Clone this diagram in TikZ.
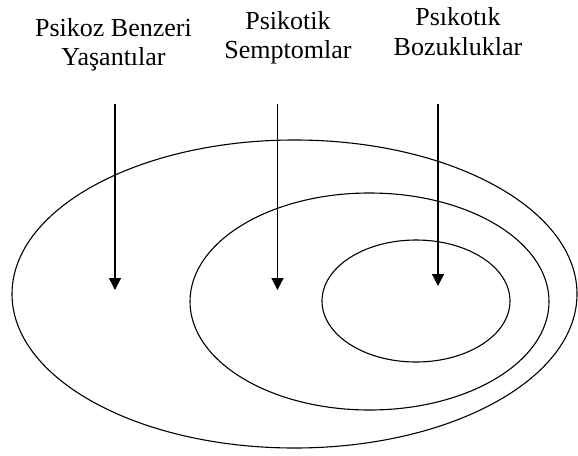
\documentclass[tikz,border=0pt]{standalone}
\usepackage{fontspec}
\setmainfont{Liberation Serif}
\usetikzlibrary{arrows.meta}
\begin{document}
\begin{tikzpicture}[x=1pt, y=-1pt, >={Triangle[length=12pt,width=12pt]},
  lbl/.style={anchor=north, inner sep=0pt, align=center, font=\fontsize{26}{29.5}\selectfont},
  ring/.style={line width=1.1pt},
  pointer/.style={->, line width=1.3pt}]
 \useasboundingbox (0,0) rectangle (578,455);
 % kümeler
 \draw[ring] (294.5,294) ellipse [x radius=282.5, y radius=154];
 \draw[ring] (369.5,301.5) ellipse [x radius=179.5, y radius=108.5];
 \draw[ring] (416,301) ellipse [x radius=94, y radius=61];
 % etiketler
 \node[lbl] (benzeri) at (113.5,18) {Psikoz Benzeri\\Yaşantılar};
 \node[lbl] (semptom) at (288,11) {Psikotik\\Semptomlar};
 \node[lbl] (bozukluk) at (458,7.5) {Psıkotık\\Bozukluklar};
 % oklar
 \coordinate (benzeri-top) at (115,104);
 \coordinate (benzeri-tip) at (115,290);
 \coordinate (semptom-top) at (277.5,104);
 \coordinate (semptom-tip) at (277.5,290);
 \coordinate (bozukluk-top) at (438,104);
 \coordinate (bozukluk-tip) at (438,286);
 \draw[pointer] (benzeri-top) -- (benzeri-tip);
 \draw[pointer] (semptom-top) -- (semptom-tip);
 \draw[pointer] (bozukluk-top) -- (bozukluk-tip);
\end{tikzpicture}
\end{document}
